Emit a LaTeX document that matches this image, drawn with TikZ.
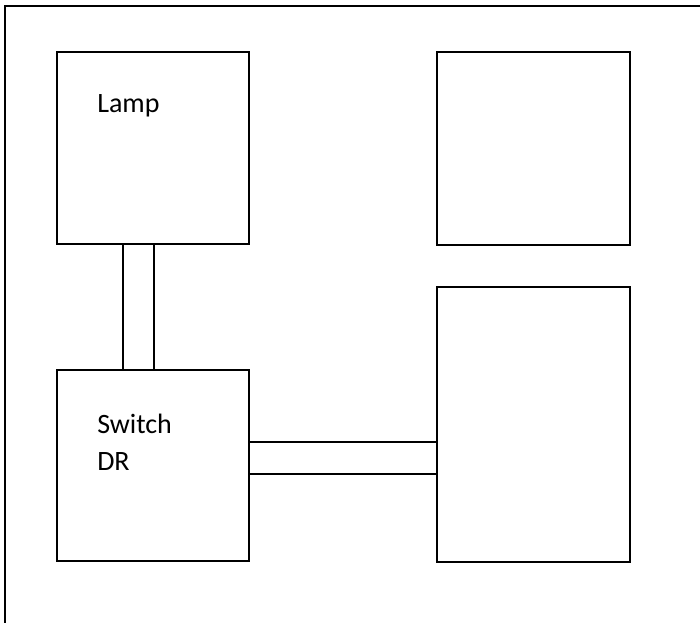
\documentclass[tikz,border=0pt]{standalone}
\usepackage{fontspec}
\setmainfont{Carlito}
\usepackage{tikz}

\tikzset{
  unitbox/.style={draw, line width=2.1pt, inner sep=0pt, fill=white},
  wirepair/.style={line width=1pt},
  boxlabel/.style={inner sep=0pt, anchor=base west, font=\fontsize{21}{25}\selectfont}
}

\begin{document}
\begin{tikzpicture}[x=0.75pt,y=0.75pt,yscale=-1,xscale=1]
\useasboundingbox (0,0) rectangle (700,622);

%Outer frame
\draw [line width=1.1pt] (5,640) -- (5,6) -- (720,6) ;

%Boxes
\node [unitbox, minimum width=144pt, minimum height=144pt] (lamp) at (153,148) {};
\node [unitbox, minimum width=144.75pt, minimum height=144.75pt] (topright) at (533.5,148.5) {};
\node [unitbox, minimum width=144.75pt, minimum height=206.25pt] (botright) at (533.5,424.5) {};
\node [unitbox, minimum width=144pt, minimum height=143.25pt] (switch) at (153,465.5) {};

%Vertical pipe
\coordinate (va) at (123,0);
\coordinate (vb) at (154,0);
\draw [wirepair] (lamp.south -| va) -- (switch.north -| va) ;
\draw [wirepair] (lamp.south -| vb) -- (switch.north -| vb) ;

%Horizontal pipe
\coordinate (ha) at (0,442);
\coordinate (hb) at (0,474);
\draw [wirepair] (switch.east |- ha) -- (botright.west |- ha) ;
\draw [wirepair] (switch.east |- hb) -- (botright.west |- hb) ;

%Labels
\node [boxlabel] (lamptext) at (97,112) {Lamp};
\node [boxlabel] (switchtext) at (97,433) {Switch};
\node [boxlabel] (drtext) at (97,470) {DR};
\end{tikzpicture}
\end{document}
